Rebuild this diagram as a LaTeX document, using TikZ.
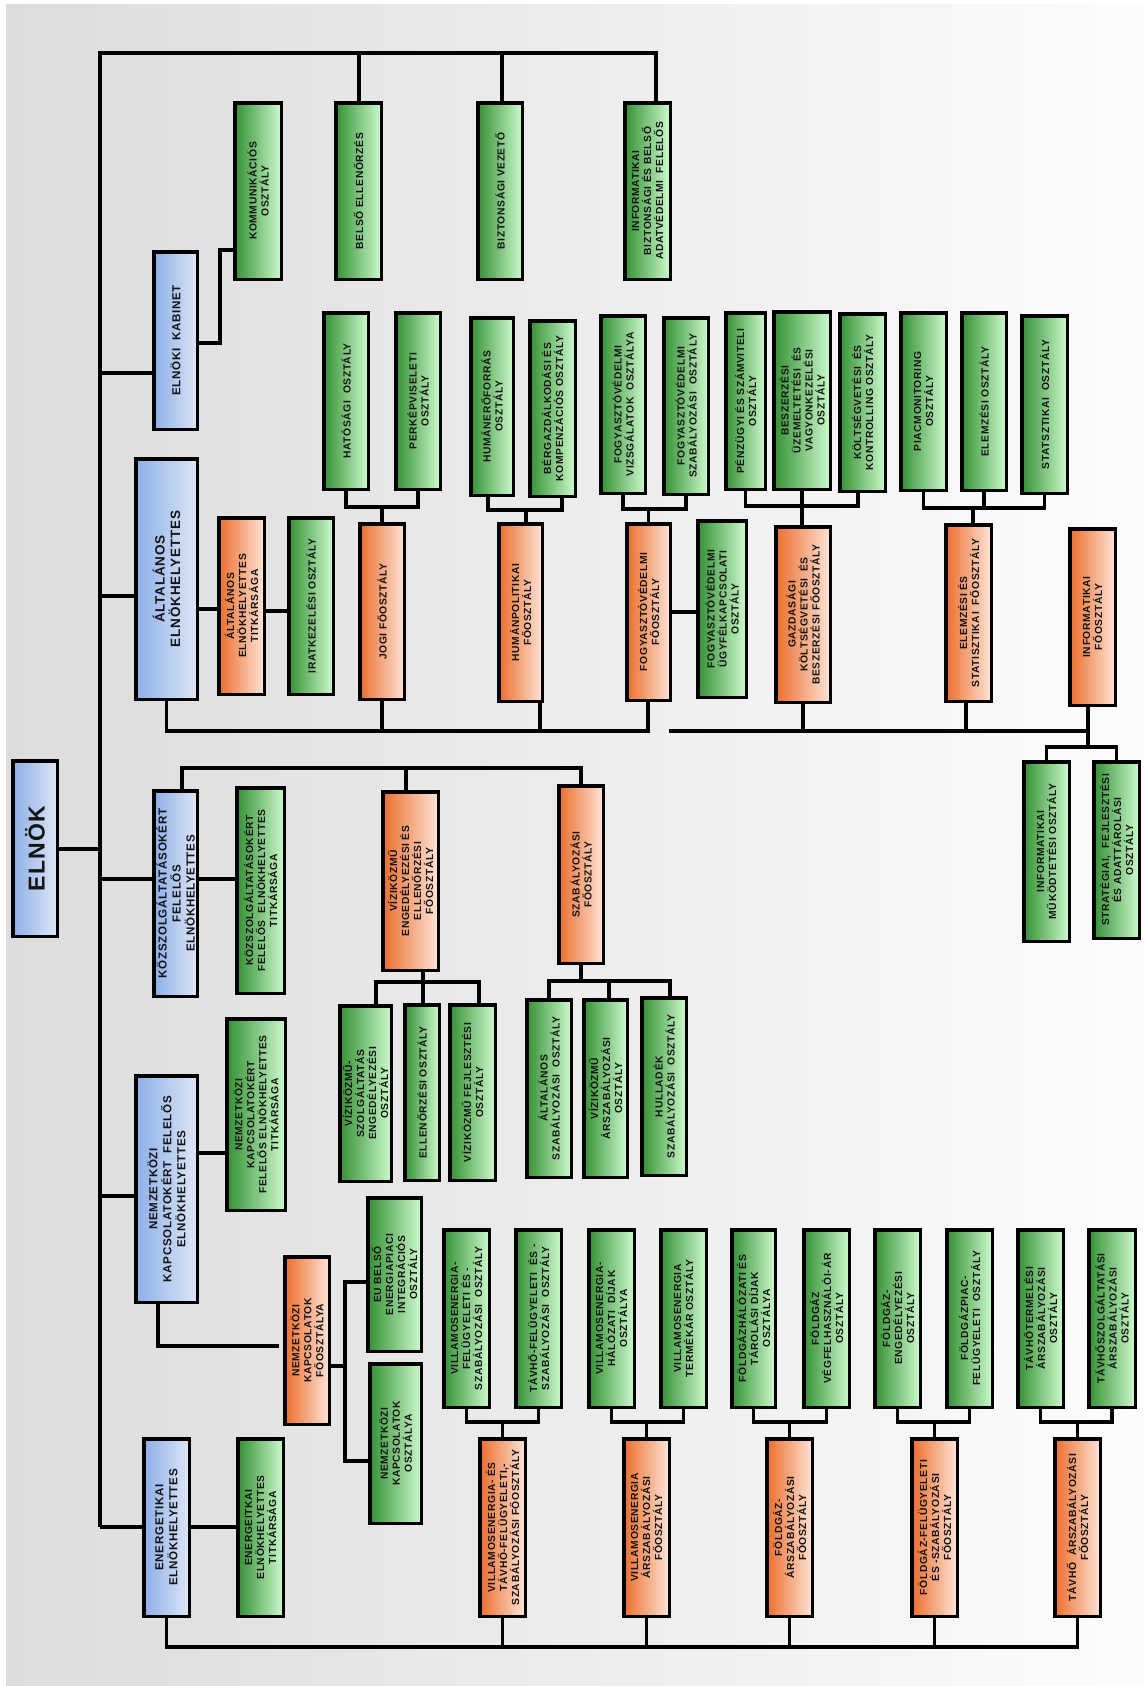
\documentclass[tikz,border=0pt]{standalone}
\usepackage{fontspec}
\setmainfont{Liberation Sans}[LetterSpace=6]
\definecolor{gL}{RGB}{52,145,52}
\definecolor{gR}{RGB}{205,250,205}
\definecolor{oL}{RGB}{236,110,45}
\definecolor{oR}{RGB}{253,228,215}
\definecolor{bL}{RGB}{140,175,232}
\definecolor{bR}{RGB}{222,230,247}
\definecolor{bgL}{RGB}{220,220,220}
\definecolor{bgR}{RGB}{252,252,252}
\definecolor{txt}{RGB}{20,20,20}
\tikzset{
  boxbase/.style={draw=black, line width=3.5pt, inner sep=0pt, outer sep=0pt, rectangle},
  gbox/.style={boxbase, left color=gL, right color=gR},
  obox/.style={boxbase, left color=oL, right color=oR},
  bbox/.style={boxbase, left color=bL, right color=bR},
  tn/.style={rotate=90, align=center, inner sep=0pt, text=txt, font=\fontsize{10.3}{12}\selectfont\bfseries},
  tb/.style={rotate=90, align=center, inner sep=0pt, text=txt, font=\fontsize{11.6}{14}\selectfont\bfseries},
  tbig/.style={rotate=90, align=center, inner sep=0pt, text=txt, font=\fontsize{13.5}{15.5}\selectfont\bfseries},
  tel/.style={rotate=90, align=center, inner sep=0pt, text=txt, font=\fontsize{23}{25}\selectfont\bfseries},
  conn/.style={draw=black, line width=3.5pt, line join=miter}
}
\newcommand\orgbox[8]{%
  \node[#2, minimum width={#5-#3-3.5}, minimum height={#6-#4-3.5}] (#1) at ({(#3+#5)/2},{(#4+#6)/2}) {};
  \node[#7] (#1-t) at (#1.center) {#8};
}
\begin{document}
\begin{tikzpicture}[x=1pt,y=-1pt]
\useasboundingbox (0,0) rectangle (1143,1686);
\fill[white] (0,0) rectangle (1143,1686);
\fill[left color=bgL, right color=bgR] (6,5) rectangle (1143,1686);

% ---- top row
\orgbox{kom}{gbox}{233}{101}{283}{281}{tn}{KOMMUNIKÁCIÓS\\OSZTÁLY}
\orgbox{belso}{gbox}{334}{101}{383}{281}{tn}{BELSŐ ELLENŐRZÉS}
\orgbox{bizt}{gbox}{476}{101}{524}{281}{tn}{BIZTONSÁGI VEZETŐ}
\orgbox{infobizt}{gbox}{623}{101}{672}{281}{tn}{INFORMATIKAI\\BIZTONSÁGI ÉS BELSŐ\\ADATVÉDELMI\ \ FELELŐS}
\orgbox{kabinet}{bbox}{152}{250}{199}{431}{tb}{ELNÖKI\ \ KABINET}

\orgbox{hat}{gbox}{322}{311}{370}{491}{tn}{HATÓSÁGI\ \ OSZTÁLY}
\orgbox{perk}{gbox}{394}{311}{442}{491}{tn}{PERKÉPVISELETI\\OSZTÁLY}
\orgbox{human}{gbox}{469}{316}{515}{497}{tn}{HUMÁNERŐFORRÁS\\OSZTÁLY}
\orgbox{berg}{gbox}{528}{319}{577}{498}{tn}{BÉRGAZDÁLKODÁSI ÉS\\KOMPENZÁCIÓS OSZTÁLY}
\orgbox{fvizs}{gbox}{599}{314}{647}{495}{tn}{FOGYASZTÓVÉDELMI\\VIZSGÁLATOK\ \ OSZTÁLYA}
\orgbox{fszab}{gbox}{662}{316}{710}{496}{tn}{FOGYASZTÓVÉDELMI\\SZABÁLYOZÁSI\ \ OSZTÁLY}
\orgbox{penz}{gbox}{724}{311}{767}{491}{tn}{PÉNZÜGYI ÉS SZÁMVITELI\\OSZTÁLY}
\orgbox{besz}{gbox}{772}{310}{832}{491}{tn}{BESZERZÉSI\\ÜZEMELTETÉSI\ \ ÉS\\VAGYONKEZELÉSI\\OSZTÁLY}
\orgbox{kolt}{gbox}{838}{312}{887}{493}{tn}{KÖLTSÉGVETÉSI\ \ ÉS\\KONTROLLING OSZTÁLY}
\orgbox{piac}{gbox}{899}{311}{948}{492}{tn}{PIACMONITORING\\OSZTÁLY}
\orgbox{elemo}{gbox}{960}{311}{1008}{492}{tn}{ELEMZÉSI OSZTÁLY}
\orgbox{stato}{gbox}{1020}{314}{1069}{495}{tn}{STATSZTIKAI\ \ OSZTÁLY}

% ---- second row
\orgbox{alt}{bbox}{134}{457}{199}{701}{tbig}{ÁLTALÁNOS\\ELNÖKHELYETTES}
\orgbox{alttit}{obox}{217}{516}{266}{696}{tn}{ÁLTALÁNOS\\ELNÖKHELYETTES\\TITKÁRSÁGA}
\orgbox{irat}{gbox}{287}{516}{335}{696}{tn}{IRATKEZELÉSI OSZTÁLY}
\orgbox{jogi}{obox}{358}{522}{406}{701}{tn}{JOGI FŐOSZTÁLY}
\orgbox{humpol}{obox}{497}{522}{544}{703}{tn}{HUMÁNPOLITIKAI\\FŐOSZTÁLY}
\orgbox{fogy}{obox}{625}{522}{672}{702}{tn}{FOGYASZTÓVÉDELMI\\FŐOSZTÁLY}
\orgbox{ugyf}{gbox}{696}{519}{748}{699}{tn}{FOGYASZTÓVÉDELMI\\ÜGYFÉLKAPCSOLATI\\OSZTÁLY}
\orgbox{gazd}{obox}{774}{525}{832}{704}{tn}{GAZDASÁGI\\KÖLTSÉGVETÉSI\ \ ÉS\\BESZERZÉSI FŐOSZTÁLY}
\orgbox{elemf}{obox}{944}{523}{993}{703}{tn}{ELEMZÉSI ÉS\\STATISZTIKAI\ \ FŐOSZTÁLY}
\orgbox{inff}{obox}{1068}{527}{1117}{707}{tn}{INFORMATIKAI\\FŐOSZTÁLY}
\orgbox{infm}{gbox}{1022}{760}{1071}{943}{tn}{INFORMATIKAI\\MŰKÖDTETÉSI OSZTÁLY}
\orgbox{infs}{gbox}{1092}{760}{1141}{940}{tn}{STRATÉGIAI,\ \ FEJLESZTÉSI\\ÉS ADATTÁROLÁSI\\OSZTÁLY}

% ---- third row
\orgbox{elnok}{bbox}{11}{759}{59}{938}{tel}{ELNÖK}
\orgbox{kozsz}{bbox}{152}{789}{199}{998}{tb}{KÖZSZOLGÁLTATÁSOKÉRT\\FELELŐS\\ELNÖKHELYETTES}
\orgbox{kozsztit}{gbox}{235}{786}{286}{995}{tn}{KÖZSZOLGÁLTATÁSOKÉRT\\FELELŐS\ \ ELNÖKHELYETTES\\TITKÁRSÁGA}
\orgbox{vizf}{obox}{381}{790}{440}{972}{tn}{VÍZIKÖZMŰ\\ENGEDÉLYEZÉSI ÉS\\ELLENŐRZÉSI\\FŐOSZTÁLY}
\orgbox{szabf}{obox}{557}{784}{605}{965}{tn}{SZABÁLYOZÁSI\\FŐOSZTÁLY}
\orgbox{vizszolg}{gbox}{338}{1004}{393}{1183}{tn}{VÍZIKÖZMŰ-\\SZOLGÁLTATÁS\\ENGEDÉLYEZÉSI\\OSZTÁLY}
\orgbox{ell}{gbox}{403}{1003}{441}{1182}{tn}{ELLENŐRZÉSI OSZTÁLY}
\orgbox{vizfejl}{gbox}{448}{1003}{497}{1182}{tn}{VÍZIKÖZMŰ FEJLESZTÉSI\\OSZTÁLY}
\orgbox{altszab}{gbox}{525}{998}{573}{1179}{tn}{ÁLTALÁNOS\\SZABÁLYOZÁSI\ \ OSZTÁLY}
\orgbox{vizar}{gbox}{582}{998}{629}{1179}{tn}{VÍZIKÖZMŰ\\ÁRSZABÁLYOZÁSI\\OSZTÁLY}
\orgbox{hull}{gbox}{640}{996}{688}{1177}{tn}{HULLADÉK\\SZABÁLYOZÁSI\ \ OSZTÁLY}

% ---- fourth row
\orgbox{nemz}{bbox}{134}{1074}{199}{1304}{tb}{NEMZETKÖZI\\KAPCSOLATOKÉRT\ \ FELELŐS\\ELNÖKHELYETTES}
\orgbox{nemztit}{gbox}{225}{1017}{287}{1212}{tn}{NEMZETKÖZI\\KAPCSOLATOKÉRT\\FELELŐS ELNÖKHELYETTES\\TITKÁRSÁGA}
\orgbox{nemzf}{obox}{283}{1255}{331}{1426}{tn}{NEMZETKÖZI\\KAPCSOLATOK\\FŐOSZTÁLYA}
\orgbox{eu}{gbox}{366}{1196}{423}{1353}{tn}{EU BELSŐ\\ENERGIAPIACI\\INTEGRÁCIÓS\\OSZTÁLY}
\orgbox{nemzo}{gbox}{368}{1362}{423}{1525}{tn}{NEMZETKÖZI\\KAPCSOLATOK\\OSZTÁLYA}
\orgbox{ener}{bbox}{142}{1437}{191}{1618}{tb}{ENERGETIKAI\\ELNÖKHELYETTES}
\orgbox{enertit}{gbox}{236}{1437}{285}{1618}{tn}{ENERGEITKAI\\ELNÖKHELYETTES\\TITKÁRSÁGA}

\orgbox{vfsz}{gbox}{442}{1228}{491}{1409}{tn}{VILLAMOSENERGIA-\\FELÜGYELETI ÉS -\\SZABÁLYOZÁSI\ \ OSZTÁLY}
\orgbox{tfsz}{gbox}{514}{1228}{563}{1409}{tn}{TÁVHŐ-FELÜGYELETI\ \ ÉS -\\SZABÁLYOZÁSI\ \ OSZTÁLY}
\orgbox{vhd}{gbox}{587}{1228}{636}{1409}{tn}{VILLAMOSENERGIA-\\HÁLÓZATI\ \ DÍJAK\\OSZTÁLYA}
\orgbox{vte}{gbox}{659}{1228}{708}{1409}{tn}{VILLAMOSENERGIA\\TERMÉKÁR OSZTÁLY}
\orgbox{fhd}{gbox}{730}{1228}{777}{1409}{tn}{FÖLDGÁZHÁLÓZATI ÉS\\TÁROLÁSI DÍJAK\\OSZTÁLYA}
\orgbox{fvf}{gbox}{802}{1228}{851}{1409}{tn}{FÖLDGÁZ\\VÉGFELHASZNÁLÓI-ÁR\\OSZTÁLY}
\orgbox{feng}{gbox}{873}{1228}{922}{1409}{tn}{FÖLDGÁZ-\\ENGEDÉLYEZÉSI\\OSZTÁLY}
\orgbox{fpf}{gbox}{945}{1228}{994}{1409}{tn}{FÖLDGÁZPIAC-\\FELÜGYELETI\ \ OSZTÁLY}
\orgbox{tter}{gbox}{1016}{1228}{1065}{1409}{tn}{TÁVHŐTERMELÉSI\\ÁRSZABÁLYOZÁSI\\OSZTÁLY}
\orgbox{tszo}{gbox}{1087}{1228}{1137}{1409}{tn}{TÁVHŐSZOLGÁLTATÁSI\\ÁRSZABÁLYOZÁSI\\OSZTÁLY}

\orgbox{vtf}{obox}{478}{1437}{527}{1618}{tn}{VILLAMOSENERGIA- ÉS\\TÁVHŐ-FELÜGYELETI,-\\SZABÁLYOZÁSI FŐOSZTÁLY}
\orgbox{var}{obox}{622}{1437}{671}{1618}{tn}{VILLAMOSENERGIA\\ÁRSZABÁLYOZÁSI\\FŐOSZTÁLY}
\orgbox{far}{obox}{765}{1437}{814}{1618}{tn}{FÖLDGÁZ-\\ÁRSZABÁLYOZÁSI\\FŐOSZTÁLY}
\orgbox{ffsz}{obox}{910}{1437}{959}{1618}{tn}{FÖLDGÁZ-FELÜGYELETI\\ÉS -SZABÁLYOZÁSI\\FŐOSZTÁLY}
\orgbox{tar}{obox}{1053}{1437}{1102}{1618}{tn}{TÁVHŐ\ \ ÁRSZABÁLYOZÁSI\\FŐOSZTÁLY}

% ---- connectors
\coordinate (spineTop) at (100,53);
\coordinate (spineBot) at (100,1527);
\draw[conn] (spineBot) -- (spineTop) -- (656,53) -- (656,0 |- infobizt.north);
\draw[conn] (359,53) -- (359,0 |- belso.north);
\draw[conn] (502,53) -- (502,0 |- bizt.north);
\draw[conn] (100,373) -- (kabinet.west |- 0,373);
\draw[conn] (kabinet.east |- 0,343) -- (220,343) -- (220,250) -- (kom.west |- 0,250);
\draw[conn] (100,596) -- (alt.west |- 0,596);
\draw[conn] (alt.east |- 0,609) -- (alttit.west |- 0,609);
\draw[conn] (alttit.east |- 0,611) -- (irat.west |- 0,611);
\draw[conn] (hat.south) -- (hat.south |- 0,507) -- (perk.south |- 0,507) -- (perk.south);
\draw[conn] (jogi.north) -- (jogi.north |- 0,507);
\draw[conn] (alt.south) -- (alt.south |- 0,731) -- (648,731) -- (648,0 |- fogy.south);
\draw[conn] (jogi.south) -- (jogi.south |- 0,731);
\draw[conn] (540,0 |- humpol.south) -- (540,731);
\draw[conn] (669,731) -- (1088,731);
\draw[conn] (gazd.south) -- (gazd.south |- 0,731);
\draw[conn] (966,0 |- elemf.south) -- (966,729);
\draw[conn] (1088,0 |- inff.south) -- (1088,747);
\draw[conn] (infm.north) -- (infm.north |- 0,747) -- (infs.north |- 0,747) -- (infs.north);
\draw[conn] (488,0 |- human.south) -- (488,510) -- (562,510) -- (562,0 |- berg.south);
\draw[conn] (526,510) -- (526,0 |- humpol.north);
\draw[conn] (fvizs.south) -- (fvizs.south |- 0,509) -- (fszab.south |- 0,509) -- (fszab.south);
\draw[conn] (fogy.north) -- (fogy.north |- 0,509);
\draw[conn] (fogy.east |- 0,612) -- (ugyf.west |- 0,612);
\draw[conn] (penz.south) -- (penz.south |- 0,506) -- (858,506) -- (858,0 |- kolt.south);
\draw[conn] (besz.south) -- (besz.south |- gazd.north);
\draw[conn] (piac.south) -- (piac.south |- 0,508) -- (stato.south |- 0,508) -- (stato.south);
\draw[conn] (elemo.south) -- (elemo.south |- 0,508);
\draw[conn] (973,508) -- (973,0 |- elemf.north);

\draw[conn] (elnok.east |- 0,849) -- (100,849);
\draw[conn] (100,879) -- (kozsz.west |- 0,879);
\draw[conn] (kozsz.east |- 0,879) -- (kozsztit.west |- 0,879);
\draw[conn] (182,0 |- kozsz.north) -- (182,768) -- (581,768) -- (581,0 |- szabf.north);
\draw[conn] (406,768) -- (406,0 |- vizf.north);
\draw[conn] (376,0 |- vizszolg.north) -- (376,982) -- (479,982) -- (479,0 |- vizfejl.north);
\draw[conn] (423,0 |- vizf.south) -- (423,0 |- ell.north);
\draw[conn] (altszab.north) -- (altszab.north |- 0,981) -- (670,981) -- (670,0 |- hull.north);
\draw[conn] (581,0 |- szabf.south) -- (581,981);
\draw[conn] (609,981) -- (609,0 |- vizar.north);

\draw[conn] (100,1196) -- (nemz.west |- 0,1196);
\draw[conn] (nemz.east |- 0,1153) -- (nemztit.west |- 0,1153);
\draw[conn, shorten >=6pt] (158,0 |- nemz.south) -- (158,1346) -- (nemzf.west |- 0,1346);
\draw[conn] (nemzf.east |- 0,1366) -- (345,1366);
\draw[conn] (eu.west |- 0,1282) -- (345,1282) -- (345,1461) -- (nemzo.west |- 0,1461);
\draw[conn] (spineBot) -- (ener.west |- spineBot);
\draw[conn] (ener.east |- spineBot) -- (enertit.west |- spineBot);

\draw[conn] (ener.south) -- (ener.south |- 0,1647) -- (tar.south |- 0,1647) -- (tar.south);
\foreach \n in {vtf,var,far,ffsz}{\draw[conn] (\n.south) -- (\n.south |- 0,1647);}
\foreach \a/\b/\c in {vfsz/tfsz/vtf, vhd/vte/var, fhd/fvf/far, feng/fpf/ffsz, tter/tszo/tar}{
  \draw[conn] (\a.south) -- (\a.south |- 0,1422) -- (\b.south |- 0,1422) -- (\b.south);
  \draw[conn] (\c.north) -- (\c.north |- 0,1422);
}
\end{tikzpicture}
\end{document}
